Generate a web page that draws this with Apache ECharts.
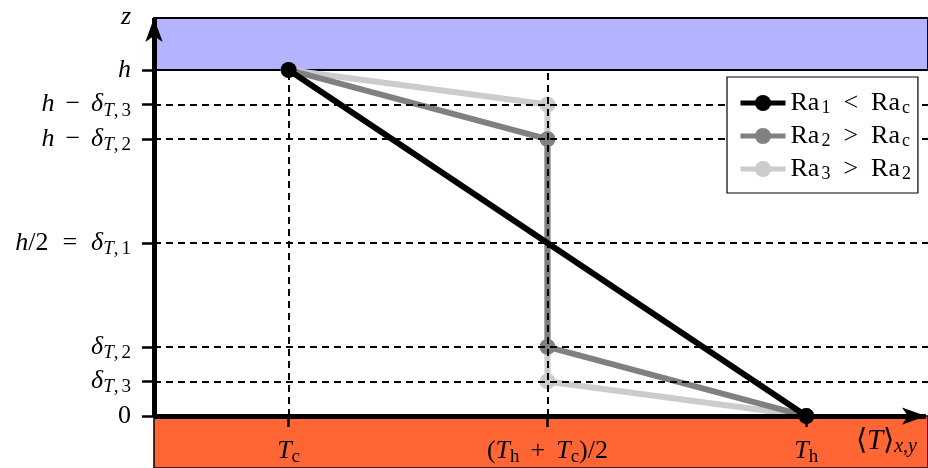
<!DOCTYPE html>
<html><head><meta charset="utf-8">
<script src="https://cdn.jsdelivr.net/npm/echarts@6/dist/echarts.min.js"></script>
<style>html,body{margin:0;padding:0;background:#fff}#c{width:928px;height:468px}</style>
</head><body><div id="c"></div>
<script>
// ---- data ----
const seriesNames = ['Ra1 < Rac', 'Ra2 > Rac', 'Ra3 > Ra2'];
const ra1Points = [[1, 1], [3, 0]];
const ra2Points = [[1, 1], [2, 0.8], [2, 0.2], [3, 0]];
const ra3Points = [[1, 1], [2, 0.9], [2, 0.1], [3, 0]];
const yTickValues = [0, 0.1, 0.2, 0.5, 0.8, 0.9, 1];
const yTickLabels = [
  '{r|0}',
  '{i|δ}{si|T}{sr|,}{gs| }{sr|3}',
  '{i|δ}{si|T}{sr|,}{gs| }{sr|2}',
  '{i|h}{r|/2}{gc| }{r|=}{gc| }{i|δ}{si|T}{sr|,}{gs| }{sr|1}',
  '{i|h}{gb| }{r|−}{gb| }{i|δ}{si|T}{sr|,}{gs| }{sr|2}',
  '{i|h}{gb| }{r|−}{gb| }{i|δ}{si|T}{sr|,}{gs| }{sr|3}',
  '{i|h}'
];
const xTickValues = [1, 2, 3];
const xTickLabels = [
  '{i|T}{sr|c}',
  '{r|(}{i|T}{sr|h}{gb| }{r|+}{gb| }{i|T}{sr|c}{r|)/2}',
  '{i|T}{sr|h}'
];
const legendLabels = [
  '{r|Ra}{gs| }{sr|1}{gc| }{r|<}{gc| }{r|Ra}{gs| }{sr|c}',
  '{r|Ra}{gs| }{sr|2}{gc| }{r|>}{gc| }{r|Ra}{gs| }{sr|c}',
  '{r|Ra}{gs| }{sr|3}{gc| }{r|>}{gc| }{r|Ra}{gs| }{sr|2}'
];
const guideLevels = [0.1, 0.2, 0.5, 0.8, 0.9];
const guideColumns = [1, 2];
const seriesColors = ['#000000', '#808080', '#cccccc'];

// ---- layout helpers ----
const FONT = 'Liberation Serif';
const AXIS_X = 0.48;               // where the z axis crosses
const XMIN = 0.4414, XMAX = 3.47, YMIN = -0.15, YMAX = 1.15;
function makeRich(size, subSize, shift, lh, gaps) {
  const base = {fontFamily: FONT, color: '#000', lineHeight: lh};
  return {
    r: Object.assign({fontSize: size}, base),
    i: Object.assign({fontSize: size, fontStyle: 'italic'}, base),
    si: Object.assign({fontSize: subSize, fontStyle: 'italic', padding: [shift * 2, 0, 0, 0]}, base),
    sr: Object.assign({fontSize: subSize, padding: [shift * 2, 0, 0, 0]}, base),
    gs: Object.assign({fontSize: subSize, width: gaps[0]}, base),
    gb: Object.assign({fontSize: size, width: gaps[1]}, base),
    gc: Object.assign({fontSize: size, width: gaps[2]}, base)
  };
}
const axisRich = makeRich(26, 19, 6, 30, [3, 11, 14]);
const legendRich = makeRich(26, 18, 5, 24, [2, 7, 13]);

const chart = echarts.init(document.getElementById('c'), null, {renderer: 'canvas'});

function lineSeries(idx, pts, z) {
  return {
    name: seriesNames[idx], type: 'line', data: pts, z: z,
    symbol: 'circle', symbolSize: 16, showSymbol: true,
    itemStyle: {color: seriesColors[idx]},
    lineStyle: {color: seriesColors[idx], width: 6},
    emphasis: {disabled: true},
    clip: false, silent: true, animation: false
  };
}

const option = {
  animation: false,
  backgroundColor: '#fff',
  grid: {left: 144, right: 0, top: 18, bottom: 0, containLabel: false, outerBoundsMode: 'none'},
  xAxis: {
    type: 'value', min: XMIN, max: XMAX, z: 10,
    position: 'bottom', offset: -52,
    axisLine: {show: false, onZero: false},
    splitLine: {show: false},
    axisTick: {show: true, customValues: xTickValues, length: 11, lineStyle: {color: '#000', width: 2.5}},
    axisLabel: {
      show: true, customValues: xTickValues, margin: 20, hideOverlap: false,
      showMinLabel: true, showMaxLabel: true,
      formatter: v => xTickLabels[xTickValues.indexOf(v)], rich: axisRich
    }
  },
  yAxis: {
    type: 'value', min: YMIN, max: YMAX, z: 10, offset: -10,
    axisLine: {show: false, onZero: false},
    splitLine: {show: false},
    axisTick: {show: true, customValues: yTickValues, length: 12, lineStyle: {color: '#000', width: 2.5}},
    axisLabel: {
      show: true, customValues: yTickValues, margin: 23,
      formatter: v => yTickLabels[yTickValues.indexOf(v)], rich: axisRich
    }
  },
  legend: {
    data: seriesNames,
    left: 727, top: 77,
    orient: 'vertical',
    padding: [12, 7, 10, 11],
    itemGap: 5, itemWidth: 45, itemHeight: 20,
    backgroundColor: '#fff', borderColor: '#000', borderWidth: 1.2,
    lineStyle: {width: 5},
    formatter: name => legendLabels[seriesNames.indexOf(name)],
    textStyle: {rich: legendRich},
    selectedMode: false, z: 20
  },
  graphic: [
    {type: 'text', x: 131, y: 17, z: 30,
     style: {text: 'z', font: 'italic 26px "Liberation Serif"', fill: '#000', align: 'right', verticalAlign: 'middle'}},
    {type: 'text', x: 856, y: 441, z: 30,
     style: {text: '{r|⟨}{i|T}{r|⟩}{si|x,y}', rich: makeRich(29, 20, 6, 32, [3, 8, 9]), align: 'left', verticalAlign: 'middle'}}
  ],
  series: [
    {
      name: 'bands', type: 'line', data: [], z: -5, clip: false, silent: true,
      markArea: {
        silent: true, label: {show: false},
        data: [
          [{coord: [AXIS_X, 1], itemStyle: {color: '#b3b3ff', borderColor: '#000', borderWidth: 2}}, {coord: [XMAX, YMAX]}],
          [{coord: [AXIS_X, YMIN], itemStyle: {color: '#ff6633', borderColor: '#000', borderWidth: 1.5}}, {coord: [XMAX, 0]}]
        ]
      }
    },
    {
      name: 'guides', type: 'line', data: [], z: 2, clip: false, silent: true,
      markLine: {
        silent: true, symbol: ['none', 'none'], label: {show: false},
        lineStyle: {color: '#000', width: 2, type: [7, 5]},
        emphasis: {disabled: true},
        data: guideLevels.map(y => [{coord: [AXIS_X, y]}, {coord: [XMAX, y]}])
          .concat(guideColumns.map(x => [{coord: [x, 0]}, {coord: [x, 1]}]))
      }
    },
    lineSeries(2, ra3Points, 3),
    lineSeries(1, ra2Points, 4),
    lineSeries(0, ra1Points, 5),
    {
      name: 'axes', type: 'line', data: [], z: 6, clip: false, silent: true,
      markLine: {
        silent: true, label: {show: false},
        lineStyle: {color: '#000', width: 5, type: 'solid'},
        emphasis: {disabled: true},
        data: [
          [{coord: [AXIS_X, 0], symbol: 'none'}, {coord: [AXIS_X, YMAX], symbol: 'arrow', symbolSize: [13, 24]}],
          [{coord: [AXIS_X, 0], symbol: 'none'}, {coord: [3.462, 0], symbol: 'arrow', symbolSize: [13, 24]}]
        ]
      }
    }
  ]
};
chart.setOption(option);
</script>
</body></html>
